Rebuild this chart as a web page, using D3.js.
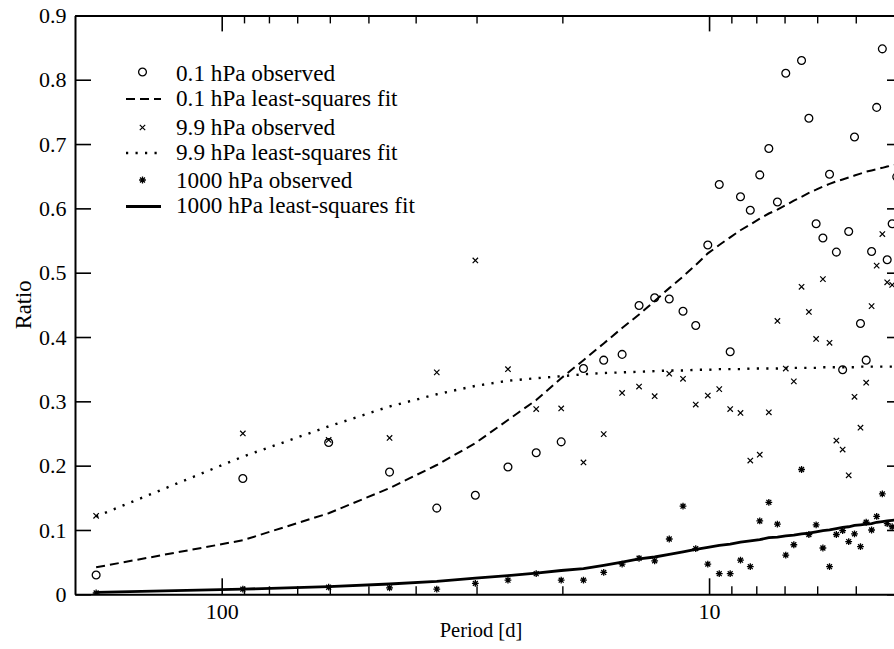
<!DOCTYPE html>
<html>
<head>
<meta charset="utf-8">
<script src="https://cdn.jsdelivr.net/npm/d3@7"></script>
<style>
  html, body { margin: 0; padding: 0; background: #fff; }
  svg { display: block; }
</style>
</head>
<body>
<svg id="chart" width="894" height="649"></svg>
<script>
// ---- data ----
const periods = [181, 90.5, 60.33, 45.25, 36.2, 30.17, 25.86, 22.63, 20.11, 18.1,
  16.45, 15.08, 13.92, 12.93, 12.07, 11.31, 10.65, 10.06, 9.53, 9.05,
  8.62, 8.23, 7.87, 7.54, 7.24, 6.96, 6.70, 6.46, 6.24, 6.03,
  5.84, 5.66, 5.48, 5.32, 5.17, 5.03, 4.89, 4.76, 4.64, 4.53,
  4.41, 4.31, 4.21, 4.12];

const obs01 = [0.030, 0.180, 0.236, 0.190, 0.134, 0.154, 0.198, 0.220, 0.237, 0.351,
  0.364, 0.373, 0.449, 0.461, 0.459, 0.440, 0.418, 0.543, 0.637, 0.377,
  0.618, 0.597, 0.652, 0.693, 0.610, 0.810, null, 0.830, 0.740, 0.576,
  0.554, 0.653, 0.532, 0.349, 0.564, 0.711, 0.421, 0.364, 0.533, 0.757,
  0.848, 0.520, 0.576, 0.649];

const fit01 = [0.042, 0.084, 0.126, 0.165, 0.201, 0.235, 0.271, 0.302, 0.336, 0.364,
  0.390, 0.414, 0.435, 0.456, 0.476, 0.494, 0.512, 0.530, 0.543, 0.555,
  0.566, 0.575, 0.584, 0.592, 0.598, 0.605, 0.612, 0.618, 0.624, 0.629,
  0.634, 0.638, 0.642, 0.645, 0.648, 0.651, 0.654, 0.657, 0.659, 0.661,
  0.663, 0.665, 0.667, 0.668];

const obs99 = [0.122, 0.250, 0.240, 0.243, 0.345, 0.519, 0.350, 0.288, 0.289, 0.205,
  0.249, 0.313, 0.323, 0.308, 0.343, 0.335, 0.295, 0.309, 0.319, 0.288,
  0.282, 0.208, 0.217, 0.283, 0.425, 0.351, 0.331, 0.478, 0.439, 0.397,
  0.490, 0.391, 0.239, 0.225, 0.185, 0.307, 0.259, 0.329, 0.448, 0.511,
  0.560, 0.485, 0.481, null];

const fit99 = [0.121, 0.214, 0.261, 0.292, 0.311, 0.324, 0.332, 0.336, 0.339, 0.342,
  0.344, 0.345, 0.346, 0.347, 0.348, 0.348, 0.349, 0.349, 0.350, 0.350,
  0.350, 0.351, 0.351, 0.351, 0.351, 0.352, 0.352, 0.352, 0.352, 0.352,
  0.353, 0.353, 0.353, 0.353, 0.353, 0.353, 0.354, 0.354, 0.354, 0.354,
  0.354, 0.354, 0.354, 0.354];

const obs1000 = [0.002, 0.008, 0.011, 0.010, 0.008, 0.017, 0.022, 0.032, 0.022, 0.022,
  0.034, 0.047, 0.056, 0.052, 0.086, 0.137, 0.071, 0.047, 0.032, 0.032,
  0.053, 0.043, 0.114, 0.143, 0.109, 0.061, 0.077, 0.194, 0.093, 0.108,
  0.072, 0.043, 0.093, 0.099, 0.082, 0.094, 0.074, 0.112, 0.100, 0.121,
  0.156, 0.110, 0.105, null];

const fit1000 = [0.003, 0.008, 0.012, 0.016, 0.020, 0.025, 0.029, 0.033, 0.037, 0.040,
  0.045, 0.050, 0.055, 0.058, 0.062, 0.066, 0.070, 0.073, 0.076, 0.078,
  0.081, 0.083, 0.085, 0.088, 0.089, 0.091, 0.092, 0.094, 0.095, 0.097,
  0.099, 0.100, 0.102, 0.104, 0.105, 0.107, 0.108, 0.109, 0.110, 0.112,
  0.113, 0.114, 0.115, 0.116];

const xMajorTicks = [100, 10];
const xMajorLabels = ["100", "10"];
const xMinorTicks = [90, 80, 70, 60, 50, 40, 30, 20, 9, 8, 7, 6, 5];
const yTicks = [0, 0.1, 0.2, 0.3, 0.4, 0.5, 0.6, 0.7, 0.8, 0.9];
const yTickLabels = ["0", "0.1", "0.2", "0.3", "0.4", "0.5", "0.6", "0.7", "0.8", "0.9"];

const legendLabels = ["0.1 hPa observed", "0.1 hPa least-squares fit",
  "9.9 hPa observed", "9.9 hPa least-squares fit",
  "1000 hPa observed", "1000 hPa least-squares fit"];
const xTitle = "Period [d]";
const yTitle = "Ratio";

// ---- layout ----
const FONT = '"Liberation Serif"';
const L = 75, R = 903, T = 15.4, B = 594.3;
const svg = d3.select("#chart");
svg.append("rect").attr("width", 894).attr("height", 649).attr("fill", "#fff");

const x = d3.scaleLog().domain([200, 4]).range([L, R]);
const y = d3.scaleLinear().domain([0, 0.9]).range([B, T]);

svg.append("defs").append("clipPath").attr("id", "plotclip")
  .append("rect").attr("x", L).attr("y", T).attr("width", R - L).attr("height", B - T);

// ---- axes ----
function styleAxis(g, w) {
  g.selectAll("path.domain").attr("stroke", "#000").attr("stroke-width", 2);
  g.selectAll(".tick line").attr("stroke", "#000").attr("stroke-width", w);
}
function styleText(sel, size) {
  sel.style("font-family", FONT).style("font-size", size + "px").attr("fill", "#000");
}
const fmtY = d => yTickLabels[yTicks.indexOf(d)];
const fmtX = d => xMajorLabels[xMajorTicks.indexOf(d)];

// bottom
const gB = svg.append("g").attr("transform", `translate(0,${B})`)
  .call(d3.axisBottom(x).tickValues(xMajorTicks).tickSize(-16).tickSizeOuter(0).tickPadding(9).tickFormat(fmtX));
styleAxis(gB, 1.6);
styleText(gB.selectAll(".tick text"), 22);
const gBm = svg.append("g").attr("transform", `translate(0,${B})`)
  .call(d3.axisBottom(x).tickValues(xMinorTicks).tickSize(-8).tickSizeOuter(0).tickFormat(""));
styleAxis(gBm, 1.4);
gBm.select("path.domain").remove();

// top
const gT = svg.append("g").attr("transform", `translate(0,${T})`)
  .call(d3.axisTop(x).tickValues(xMajorTicks).tickSize(-16).tickSizeOuter(0).tickFormat(""));
styleAxis(gT, 1.6);
const gTm = svg.append("g").attr("transform", `translate(0,${T})`)
  .call(d3.axisTop(x).tickValues(xMinorTicks).tickSize(-8).tickSizeOuter(0).tickFormat(""));
styleAxis(gTm, 1.4);
gTm.select("path.domain").remove();

// left
const gL = svg.append("g").attr("transform", `translate(${L},0)`)
  .call(d3.axisLeft(y).tickValues(yTicks).tickSize(-16).tickSizeOuter(0).tickPadding(8.5).tickFormat(fmtY));
styleAxis(gL, 1.6);
styleText(gL.selectAll(".tick text"), 22);

// right
const gR = svg.append("g").attr("transform", `translate(${R},0)`)
  .call(d3.axisRight(y).tickValues(yTicks).tickSize(-16).tickSizeOuter(0).tickFormat(""));
styleAxis(gR, 1.6);

// titles
styleText(svg.append("text").attr("x", 481).attr("y", 637).attr("text-anchor", "middle").text(xTitle), 20.5);
styleText(svg.append("text").attr("transform", `translate(31,${(T + B) / 2}) rotate(-90)`)
  .attr("text-anchor", "middle").text(yTitle), 22.5);

// ---- series ----
const plot = svg.append("g").attr("clip-path", "url(#plotclip)");
const pts = arr => periods.map((p, i) => ({ p, v: arr[i] })).filter(d => d.v !== null);
const line = d3.line().x(d => x(d.p)).y(d => y(d.v));

const fitStyles = [
  { data: fit01, w: 2, dash: "9 5" },
  { data: fit99, w: 2.4, dash: "2.2 7.3" },
  { data: fit1000, w: 2.8, dash: null }
];
fitStyles.forEach(s => {
  plot.append("path").datum(pts(s.data)).attr("d", line)
    .attr("fill", "none").attr("stroke", "#000").attr("stroke-width", s.w)
    .attr("stroke-dasharray", s.dash);
});

function circleSym(g) {
  g.append("circle").attr("r", 3.9).attr("fill", "none").attr("stroke", "#000").attr("stroke-width", 1.3);
}
function crossSym(g) {
  const r = 2.7;
  g.append("path").attr("d", `M${-r},${-r}L${r},${r}M${-r},${r}L${r},${-r}`)
    .attr("stroke", "#000").attr("stroke-width", 1.2).attr("fill", "none");
}
function starSym(g) {
  const r = 3.4, q = r * 0.72;
  g.append("path").attr("d", `M0,${-r}V${r}M${-r},0H${r}M${-q},${-q}L${q},${q}M${-q},${q}L${q},${-q}`)
    .attr("stroke", "#000").attr("stroke-width", 1.3).attr("fill", "none");
}

[[obs01, circleSym], [obs99, crossSym], [obs1000, starSym]].forEach(([arr, sym]) => {
  plot.append("g").selectAll("g").data(pts(arr)).join("g")
    .attr("transform", d => `translate(${x(d.p)},${y(d.v)})`)
    .each(function () { sym(d3.select(this)); });
});

// ---- legend ----
const leg = svg.append("g");
const baselines = [81, 106, 135, 160, 188, 213];
const symY = [72, 99, 127.5, 153, 180, 206.5];
legendLabels.forEach((t, i) => {
  styleText(leg.append("text").attr("x", 176).attr("y", baselines[i]).text(t), 23.2);
});
circleSym(leg.append("g").attr("transform", `translate(142.5,${symY[0]})`));
crossSym(leg.append("g").attr("transform", `translate(142.5,${symY[2]})`));
starSym(leg.append("g").attr("transform", `translate(142.5,${symY[4]})`));
[[1, "9 5", 2], [3, "2.2 7.3", 2.4], [5, null, 2.8]].forEach(([i, dash, w]) => {
  leg.append("line").attr("x1", 126).attr("x2", 161).attr("y1", symY[i]).attr("y2", symY[i])
    .attr("stroke", "#000").attr("stroke-width", w).attr("stroke-dasharray", dash);
});
</script>
</body>
</html>
